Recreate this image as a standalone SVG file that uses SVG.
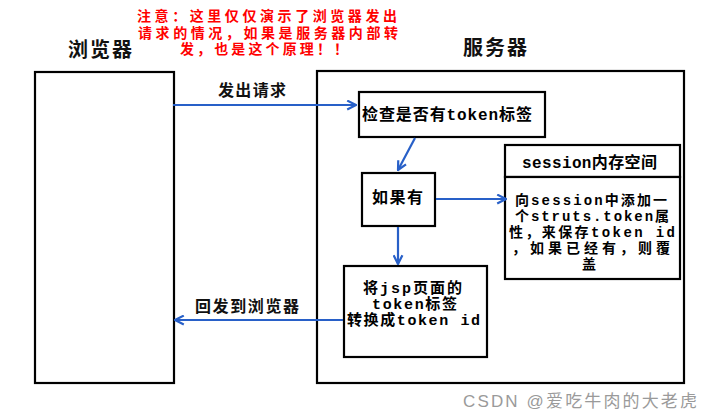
<svg xmlns="http://www.w3.org/2000/svg" width="710" height="420" viewBox="0 0 710 420">
<defs>
<style>
.box{fill:#fff;stroke:#000;stroke-width:2.2}
.title{font-family:"Noto Sans CJK SC","DejaVu Sans",sans-serif;font-weight:bold;font-size:20px;fill:#111}
.lbl{font-family:"Noto Sans CJK SC","DejaVu Sans",sans-serif;font-weight:bold;font-size:16px;fill:#111}
.t{font-family:"Liberation Mono","Noto Sans CJK SC",monospace;font-weight:bold;font-size:16px;fill:#000}
.tm{font-family:"Liberation Mono","Noto Sans CJK SC",monospace;font-weight:bold;font-size:15px;fill:#000}
.ts{font-family:"Liberation Mono","Noto Sans CJK SC",monospace;font-weight:bold;font-size:14px;fill:#000}
.note{font-family:"Liberation Sans","Noto Sans CJK SC",sans-serif;font-weight:bold;font-size:14px;fill:#ff0000}
.wm{font-family:"Liberation Sans","Noto Sans CJK SC",sans-serif;font-size:17px;fill:#9a9a9a}
.conn{stroke:#2860c8;stroke-width:2.2;fill:none}
</style>
<marker id="ah" viewBox="0 0 10 10" refX="9" refY="5" markerWidth="5" markerHeight="5" orient="auto" markerUnits="strokeWidth">
<path d="M1,1 L9,5 L1,9" fill="none" stroke="#2860c8" stroke-width="2"/>
</marker>
</defs>
<rect width="710" height="420" fill="#fff"/>

<g id="note">
<text class="note" x="137" y="21" textLength="260" lengthAdjust="spacing">注意：这里仅仅演示了浏览器发出</text>
<text class="note" x="138" y="37.5" textLength="260" lengthAdjust="spacing">请求的情况，如果是服务器内部转</text>
<text class="note" x="180" y="54" textLength="168" lengthAdjust="spacing">发，也是这个原理！！</text>
</g>

<g id="browser">
<text class="title" x="68" y="57" textLength="64" lengthAdjust="spacing">浏览器</text>
<rect class="box" x="35" y="72" width="139" height="311"/>
</g>

<g id="server">
<text class="title" x="463" y="55" textLength="64" lengthAdjust="spacing">服务器</text>
<rect class="box" x="317" y="71" width="367" height="312"/>
</g>

<g id="check">
<rect class="box" x="359" y="92" width="186" height="45"/>
<text class="t" x="362" y="120" textLength="170" lengthAdjust="spacing">检查是否有token标签</text>
</g>

<g id="ifhas">
<rect class="box" x="362" y="173" width="73" height="53"/>
<text class="t" x="372" y="203" textLength="51" lengthAdjust="spacing">如果有</text>
</g>

<g id="session">
<rect class="box" x="505" y="145" width="175" height="32"/>
<text class="t" x="522" y="168" textLength="135" lengthAdjust="spacing">session内存空间</text>
<rect class="box" x="505" y="177" width="175" height="102"/>
<text class="ts" x="515" y="205" textLength="152" lengthAdjust="spacing">向session中添加一</text>
<text class="ts" x="515" y="221" textLength="154" lengthAdjust="spacing">个struts.token属</text>
<text class="ts" x="509" y="237" textLength="166" lengthAdjust="spacing">性，来保存token id</text>
<text class="ts" x="512" y="253" textLength="158" lengthAdjust="spacing">，如果已经有，则覆</text>
<text class="ts" x="582" y="269" textLength="16" lengthAdjust="spacing">盖</text>
</g>

<g id="convert">
<rect class="box" x="344" y="266" width="143" height="91"/>
<text class="tm" x="363" y="293" textLength="99" lengthAdjust="spacing">将jsp页面的</text>
<text class="tm" x="372" y="309" textLength="85" lengthAdjust="spacing">token标签</text>
<text class="tm" x="347" y="325" textLength="133" lengthAdjust="spacing">转换成token id</text>
</g>

<g id="connectors">
<line class="conn" x1="173" y1="105" x2="356" y2="105" marker-end="url(#ah)"/>
<text class="lbl" x="218" y="96" textLength="68" lengthAdjust="spacing">发出请求</text>
<line class="conn" x1="415" y1="138" x2="398" y2="170" marker-end="url(#ah)"/>
<line class="conn" x1="436" y1="199" x2="506" y2="199" marker-end="url(#ah)"/>
<line class="conn" x1="398" y1="227" x2="398" y2="264" marker-end="url(#ah)"/>
<line class="conn" x1="343" y1="320" x2="175" y2="320" marker-end="url(#ah)"/>
<text class="lbl" x="195" y="312" textLength="104" lengthAdjust="spacing">回发到浏览器</text>
</g>

<text class="wm" x="463" y="407" textLength="234" lengthAdjust="spacing">CSDN @爱吃牛肉的大老虎</text>
</svg>
